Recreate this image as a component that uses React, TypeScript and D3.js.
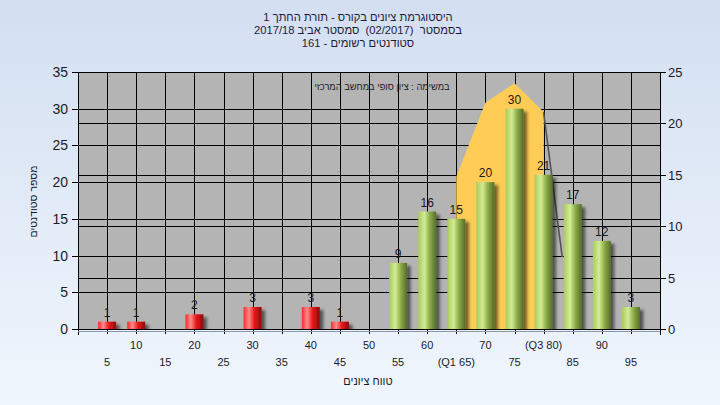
import React from 'react';
import * as d3 from 'd3';

const categories = [5, 10, 15, 20, 25, 30, 35, 40, 45, 50, 55, 60, 65, 70, 75, 80, 85, 90, 95];
const counts = [1, 1, 0, 2, 0, 3, 0, 3, 1, 0, 9, 16, 15, 20, 30, 21, 17, 12, 3];
const categoryLabels = ['5', '10', '15', '20', '25', '30', '35', '40', '45', '50', '55', '60', '(Q1 65)', '70', '75', '(Q3 80)', '85', '90', '95'];
const failBelow = 55;
const leftTicks = [0, 5, 10, 15, 20, 25, 30, 35];
const rightTicks = [0, 5, 10, 15, 20, 25];
// quartile band (right axis)
const bandX = [65, 70, 75, 80];
const bandY = [14.8, 22.0, 23.9, 21.1];
const tailX = [80, 83.2];
const tailY = [21.1, 7.0];

const titleLines = [
  'היסטוגרמת ציונים בקורס - תורת החתך 1',
  'בסמסטר  (02/2017)  סמסטר אביב 2017/18',
  'סטודנטים רשומים - 161',
];
const noteText = 'במשימה : ציון סופי במחשב המרכזי';
const yTitle = 'מספר סטודנטים';
const xTitle = 'טווח ציונים';

const W = 720, H = 405;
const L = 78, R = 660, T = 72, B = 329;
const FONT = '"Liberation Sans", Arial, sans-serif';

export default function App() {
  const x = d3.scaleLinear().domain([0, 100]).range([L, R]);
  const yL = d3.scaleLinear().domain([0, 35]).range([B, T]);
  const yR = d3.scaleLinear().domain([0, 25]).range([B, T]);
  const barW = 18;

  const area = d3.area<number>()
    .x((_, i) => x(bandX[i]))
    .y0(B)
    .y1((d) => yR(d));
  const tail = d3.line<number>()
    .x((_, i) => x(tailX[i]))
    .y((d) => yR(d));

  return (
    <svg width={W} height={H} style={{ position: 'absolute', left: 0, top: 0, display: 'block' }} fontFamily={FONT}>
      <defs>
        <linearGradient id="bg" x1="0" y1="0" x2="0" y2="1">
          <stop offset="0" stopColor="#d3dff1" />
          <stop offset="1" stopColor="#f0f6fd" />
        </linearGradient>
        <linearGradient id="gGreen" x1="0" y1="0" x2="1" y2="0">
          <stop offset="0" stopColor="#a9cb5c" />
          <stop offset="0.35" stopColor="#d2ec94" />
          <stop offset="0.65" stopColor="#8cab48" />
          <stop offset="1" stopColor="#556d27" />
        </linearGradient>
        <linearGradient id="gRed" x1="0" y1="0" x2="1" y2="0">
          <stop offset="0" stopColor="#ff2a2a" />
          <stop offset="0.3" stopColor="#ff8a8a" />
          <stop offset="0.6" stopColor="#e81818" />
          <stop offset="1" stopColor="#8a0c0c" />
        </linearGradient>
        <filter id="shadow" x="-30%" y="-30%" width="170%" height="170%">
          <feDropShadow dx="3.5" dy="3" stdDeviation="1.6" floodColor="#000" floodOpacity="0.55" />
        </filter>
        <clipPath id="plotClip">
          <rect x={L} y={T} width={R - L} height={B - T} />
        </clipPath>
      </defs>
      <rect x={0} y={0} width={W} height={H} fill="url(#bg)" />

      {/* titles */}
      {titleLines.map((ln, i) => (
        <text key={i} x={358} y={21 + i * 13} fontSize={11.2} textAnchor="middle" fill="#1e1a3a"
          style={{ whiteSpace: 'pre' } as any}>
          {ln}
        </text>
      ))}

      {/* plot background */}
      <rect x={L} y={T} width={R - L} height={B - T} fill="#b4b4b4" />

      {/* grid */}
      <g stroke="#000" strokeWidth={1}>
        {leftTicks.map((t) => (
          <line key={'gl' + t} x1={L} x2={R} y1={Math.round(yL(t)) + 0.5} y2={Math.round(yL(t)) + 0.5} />
        ))}
        {rightTicks.map((t) => (
          <line key={'gr' + t} x1={L} x2={R} y1={Math.round(yR(t)) + 0.5} y2={Math.round(yR(t)) + 0.5} />
        ))}
        {categories.map((c) => (
          <line key={'gv' + c} x1={Math.round(x(c)) + 0.5} x2={Math.round(x(c)) + 0.5} y1={T} y2={B + 5} />
        ))}
      </g>

      {/* quartile band */}
      <g clipPath="url(#plotClip)">
        <path d={area(bandY) || ''} fill="#ffcc55" />
        <path d={tail(tailY) || ''} fill="none" stroke="#555" strokeWidth={1.6} />
      </g>

      {/* note */}
      <text x={382} y={90} fontSize={9.3} textAnchor="middle" fill="#222">
        {noteText}
      </text>

      {/* bars */}
      <g clipPath="url(#plotClip)">
        {categories.map((c, i) =>
          counts[i] > 0 ? (
            <rect
              key={'b' + c}
              x={x(c) - barW / 2}
              y={yL(counts[i])}
              width={barW}
              height={B - yL(counts[i])}
              fill={c < failBelow ? 'url(#gRed)' : 'url(#gGreen)'}
              filter="url(#shadow)"
            />
          ) : null
        )}
      </g>

      {/* value labels */}
      {categories.map((c, i) =>
        counts[i] > 0 ? (
          <text key={'v' + c} x={x(c)} y={yL(counts[i]) - 5} fontSize={12} textAnchor="middle" fill="#1a1a1a">
            {counts[i]}
          </text>
        ) : null
      )}

      {/* axes */}
      <g stroke="#000" strokeWidth={1}>
        <line x1={L + 0.5} x2={L + 0.5} y1={T} y2={B + 6} />
        <line x1={R + 0.5} x2={R + 0.5} y1={T} y2={B + 6} />
        <line x1={L} x2={R} y1={B + 0.5} y2={B + 0.5} />
        {leftTicks.map((t) => (
          <line key={'tl' + t} x1={L - 6} x2={L} y1={Math.round(yL(t)) + 0.5} y2={Math.round(yL(t)) + 0.5} />
        ))}
        {rightTicks.map((t) => (
          <line key={'tr' + t} x1={R} x2={R + 6} y1={Math.round(yR(t)) + 0.5} y2={Math.round(yR(t)) + 0.5} />
        ))}
      </g>
      <line x1={L} x2={R} y1={B + 2.5} y2={B + 2.5} stroke="#8a96aa" strokeWidth={1} />

      {leftTicks.map((t) => (
        <text key={'ll' + t} x={68} y={yL(t) + 5} fontSize={14} textAnchor="end" fill="#1a1a2a">
          {t}
        </text>
      ))}
      {rightTicks.map((t) => (
        <text key={'rl' + t} x={668} y={yR(t) + 5} fontSize={13} textAnchor="start" fill="#1a1a2a">
          {t}
        </text>
      ))}
      {categories.map((c, i) => (
        <text key={'xl' + c} x={x(c)} y={i % 2 === 1 ? 349 : 366} fontSize={11} textAnchor="middle" fill="#1a1a2a">
          {categoryLabels[i]}
        </text>
      ))}

      <text transform={`translate(37,${(T + B) / 2 + 1}) rotate(-90)`} fontSize={10.5} textAnchor="middle" fill="#1a1a2a">
        {yTitle}
      </text>
      <text x={368} y={385} fontSize={11} textAnchor="middle" fill="#1a1a2a">
        {xTitle}
      </text>
    </svg>
  );
}
